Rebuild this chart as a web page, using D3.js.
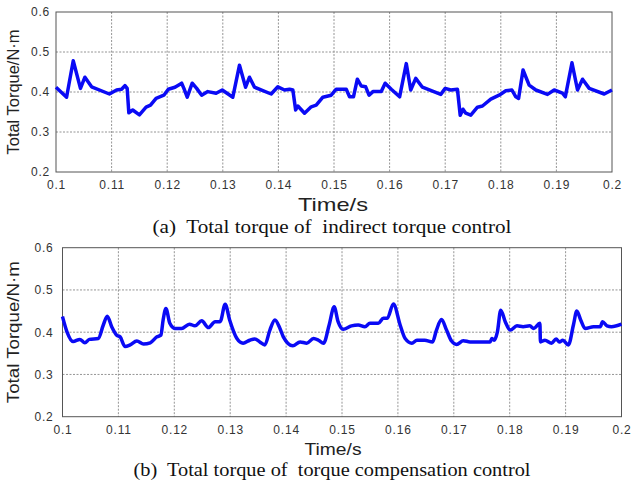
<!DOCTYPE html>
<html>
<head>
<meta charset="utf-8">
<script src="https://cdn.jsdelivr.net/npm/d3@7"></script>
<style>
  body { margin: 0; background: #fff; }
  text { white-space: pre; }
</style>
</head>
<body>
<div id="chart"></div>
<script>
// (a) indirect torque control
var timeA = [0.1, 0.1019, 0.1031, 0.1044, 0.1052, 0.1064, 0.1096, 0.1109, 0.1118, 0.1124, 0.1128, 0.1131, 0.1138, 0.115,
  0.1162, 0.117, 0.118, 0.1194, 0.1202, 0.1214, 0.1226, 0.123, 0.1236, 0.1245, 0.1253, 0.1262, 0.1273, 0.1288, 0.1299,
  0.1318, 0.133, 0.1341, 0.1348, 0.1357, 0.1387, 0.1399, 0.1411, 0.142, 0.1426, 0.1431, 0.1435, 0.1447, 0.1459, 0.1468,
  0.148, 0.1495, 0.1504, 0.1522, 0.1528, 0.1535, 0.1542, 0.1549, 0.1557, 0.1563, 0.157, 0.1585, 0.1592, 0.1603, 0.1618,
  0.163, 0.1638, 0.1647, 0.1659, 0.1692, 0.17, 0.171, 0.1722, 0.1727, 0.1732, 0.1737, 0.1746, 0.1758, 0.1767, 0.1782,
  0.1797, 0.1809, 0.182, 0.1827, 0.1832, 0.184, 0.1851, 0.1863, 0.1884, 0.1896, 0.1911, 0.1916, 0.1928, 0.1938, 0.1947,
  0.1959, 0.1986, 0.2];
var torqueA = [0.412, 0.387, 0.478, 0.409, 0.437, 0.413, 0.395, 0.405, 0.407, 0.416, 0.409, 0.348, 0.355, 0.343,
  0.362, 0.367, 0.384, 0.392, 0.407, 0.412, 0.422, 0.409, 0.387, 0.422, 0.409, 0.392, 0.401, 0.397, 0.405,
  0.387, 0.467, 0.412, 0.437, 0.412, 0.395, 0.413, 0.405, 0.407, 0.405, 0.355, 0.365, 0.347, 0.363, 0.367,
  0.387, 0.392, 0.407, 0.407, 0.388, 0.388, 0.432, 0.415, 0.413, 0.392, 0.401, 0.401, 0.422, 0.407, 0.388,
  0.471, 0.405, 0.434, 0.412, 0.394, 0.409, 0.405, 0.407, 0.342, 0.357, 0.347, 0.342, 0.362, 0.365, 0.382,
  0.392, 0.403, 0.405, 0.388, 0.384, 0.455, 0.417, 0.405, 0.394, 0.405, 0.397, 0.388, 0.473, 0.405, 0.432,
  0.409, 0.395, 0.405];

// (b) torque compensation control
var timeB = [0.1, 0.1008, 0.1019, 0.1031, 0.104, 0.1048, 0.1064, 0.1073, 0.108, 0.1088, 0.1097, 0.1103, 0.1112, 0.1121,
  0.1133, 0.1145, 0.1157, 0.1169, 0.1176, 0.118, 0.1185, 0.1192, 0.1201, 0.1213, 0.1227, 0.1237, 0.1249, 0.1261, 0.1273,
  0.1282, 0.1291, 0.1299, 0.1312, 0.1323, 0.1335, 0.1344, 0.1353, 0.1362, 0.1371, 0.138, 0.1389, 0.1395, 0.1412, 0.1425,
  0.1437, 0.1449, 0.1458, 0.1467, 0.1477, 0.1486, 0.1493, 0.1502, 0.1517, 0.1529, 0.1541, 0.155, 0.1565, 0.1574, 0.1581,
  0.1592, 0.1604, 0.1613, 0.1625, 0.1634, 0.1648, 0.1662, 0.1669, 0.1678, 0.1687, 0.1696, 0.1705, 0.1717, 0.1729, 0.1765,
  0.1768, 0.1772, 0.1778, 0.1784, 0.1792, 0.1801, 0.1813, 0.1824, 0.1836, 0.1843, 0.1854, 0.1855, 0.1863, 0.1875, 0.1883,
  0.1889, 0.1895, 0.1905, 0.1914, 0.192, 0.1927, 0.1935, 0.195, 0.1962, 0.1966, 0.1974, 0.1982, 0.2];
var torqueB = [0.437, 0.401, 0.378, 0.383, 0.375, 0.383, 0.385, 0.417, 0.438, 0.413, 0.393, 0.389, 0.366, 0.37,
  0.379, 0.372, 0.375, 0.389, 0.393, 0.429, 0.456, 0.421, 0.409, 0.409, 0.419, 0.415, 0.427, 0.411, 0.425,
  0.425, 0.466, 0.429, 0.385, 0.374, 0.381, 0.384, 0.377, 0.37, 0.405, 0.429, 0.409, 0.389, 0.368, 0.377,
  0.374, 0.385, 0.381, 0.374, 0.417, 0.46, 0.425, 0.407, 0.415, 0.417, 0.413, 0.421, 0.421, 0.433, 0.433,
  0.467, 0.417, 0.385, 0.374, 0.381, 0.381, 0.377, 0.405, 0.43, 0.405, 0.379, 0.371, 0.38, 0.377, 0.377,
  0.385, 0.381, 0.401, 0.452, 0.425, 0.405, 0.415, 0.413, 0.415, 0.409, 0.421, 0.377, 0.381, 0.374, 0.384,
  0.377, 0.381, 0.37, 0.417, 0.45, 0.429, 0.409, 0.413, 0.413, 0.425, 0.415, 0.413, 0.419];

var xTicks = [0.1, 0.11, 0.12, 0.13, 0.14, 0.15, 0.16, 0.17, 0.18, 0.19, 0.2];
var yTicks = [0.2, 0.3, 0.4, 0.5, 0.6];
var yLabel = "Total Torque/N\u00b7m";
var xLabel = "Time/s";
var captions = ["(a)  Total torque of  indirect torque control", "(b)  Total torque of  torque compensation control"];

var svg = d3.select("#chart").append("svg")
    .attr("width", 633)
    .attr("height", 483);

// layout of the two panels
var panels = [
  {time: timeA, torque: torqueA, left: 56, right: 612, top: 12, bottom: 172, curve: d3.curveLinear,
   xPad: 8, yPad: 6, yLab: {x: 13, size: 16, len: 125},
   xLab: {y: 211, size: 19, len: 70}, cap: {y: 233, size: 18, len: 359}, caption: captions[0]},
  {time: timeB, torque: torqueB, left: 62.5, right: 621.5, top: 247.7, bottom: 416.7, curve: d3.curveMonotoneX,
   xPad: 8.5, yPad: 9, yLab: {x: 13, size: 17, len: 142},
   xLab: {y: 455, size: 17, len: 57}, cap: {y: 476, size: 19, len: 397}, caption: captions[1]}
];

panels.forEach(function(p) {
  var x = d3.scaleLinear().domain([0.1, 0.2]).range([p.left, p.right]);
  var y = d3.scaleLinear().domain([0.2, 0.6]).range([p.bottom, p.top]);

  var g = svg.append("g");

  // grid
  g.selectAll(".vgrid")
      .data(xTicks.slice(1, -1))
      .enter().append("line")
      .attr("x1", function(d) { return x(d); })
      .attr("x2", function(d) { return x(d); })
      .attr("y1", p.top).attr("y2", p.bottom)
      .attr("stroke", "#7a7a7a").attr("stroke-width", 0.8)
      .attr("stroke-dasharray", "2,1.5");
  g.selectAll(".hgrid")
      .data(yTicks.slice(1, -1))
      .enter().append("line")
      .attr("y1", function(d) { return y(d); })
      .attr("y2", function(d) { return y(d); })
      .attr("x1", p.left).attr("x2", p.right)
      .attr("stroke", "#7a7a7a").attr("stroke-width", 0.8)
      .attr("stroke-dasharray", "2,1.5");

  // axes (labels only)
  var xAxis = g.append("g")
      .attr("transform", "translate(0," + p.bottom + ")")
      .call(d3.axisBottom(x).tickValues(xTicks).tickFormat(d3.format(".2~f"))
        .tickSize(0).tickPadding(p.xPad));
  var yAxis = g.append("g")
      .attr("transform", "translate(" + p.left + ",0)")
      .call(d3.axisLeft(y).tickValues(yTicks).tickFormat(d3.format(".1f"))
        .tickSize(0).tickPadding(p.yPad));
  [xAxis, yAxis].forEach(function(a) {
    a.select(".domain").remove();
    a.attr("font-family", "'Liberation Sans', Arial, sans-serif")
     .attr("font-size", 12);
    a.selectAll("text").attr("fill", "#333").attr("letter-spacing", "0.8px");
  });

  // frame
  g.append("rect")
      .attr("x", p.left).attr("y", p.top)
      .attr("width", p.right - p.left).attr("height", p.bottom - p.top)
      .attr("fill", "none").attr("stroke", "#555").attr("stroke-width", 1);

  // torque line
  var pts = p.time.map(function(t, i) { return [t, p.torque[i]]; });
  g.append("path")
      .datum(pts)
      .attr("fill", "none")
      .attr("stroke", "#0a0af5")
      .attr("stroke-width", 3.5)
      .attr("stroke-linejoin", "round")
      .attr("d", d3.line()
        .curve(p.curve)
        .x(function(d) { return x(d[0]); })
        .y(function(d) { return y(d[1]); }));

  // labels
  var cy = (p.top + p.bottom) / 2;
  g.append("text")
      .attr("transform", "translate(" + (p.yLab.x + p.yLab.size * 0.36) + "," + cy + ") rotate(-90)")
      .attr("text-anchor", "middle")
      .attr("font-family", "'Liberation Sans', Arial, sans-serif")
      .attr("font-size", p.yLab.size)
      .attr("fill", "#222")
      .attr("textLength", p.yLab.len)
      .attr("lengthAdjust", "spacingAndGlyphs")
      .text(yLabel);

  g.append("text")
      .attr("x", 333).attr("y", p.xLab.y)
      .attr("text-anchor", "middle")
      .attr("font-family", "'Liberation Sans', Arial, sans-serif")
      .attr("font-size", p.xLab.size)
      .attr("fill", "#222")
      .attr("textLength", p.xLab.len)
      .attr("lengthAdjust", "spacingAndGlyphs")
      .text(xLabel);

  g.append("text")
      .attr("x", 332).attr("y", p.cap.y)
      .attr("text-anchor", "middle")
      .attr("font-family", "'Liberation Serif', 'Times New Roman', serif")
      .attr("font-size", p.cap.size)
      .attr("fill", "#111")
      .attr("textLength", p.cap.len)
      .attr("lengthAdjust", "spacingAndGlyphs")
      .text(p.caption);
});
</script>
</body>
</html>
